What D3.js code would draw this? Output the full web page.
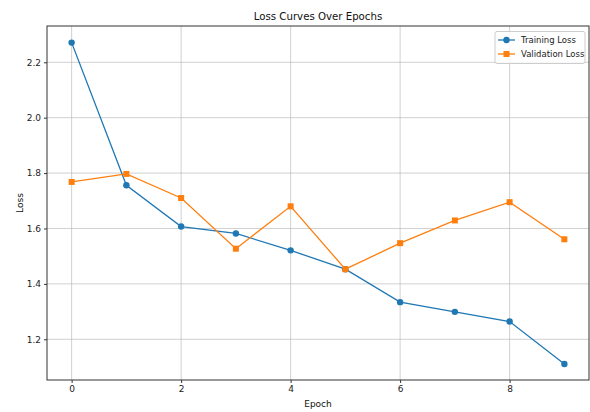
<!DOCTYPE html>
<html><head><meta charset="utf-8">
<script src="https://cdn.jsdelivr.net/npm/d3@7"></script>
<style>body{margin:0;background:#fff;} text{font-family:"DejaVu Sans",sans-serif;}</style>
</head><body>
<svg id="chart" width="590" height="412"></svg>
<script>
const epochs = [0,1,2,3,4,5,6,7,8,9];
const trainingLoss = [2.271,1.756,1.607,1.582,1.521,1.453,1.334,1.299,1.264,1.111];
const validationLoss = [1.768,1.797,1.710,1.527,1.680,1.453,1.547,1.629,1.695,1.561];
const xTicks = [0,2,4,6,8];
const yTicks = [1.2,1.4,1.6,1.8,2.0,2.2];
const seriesNames = ["Training Loss","Validation Loss"];
const colors = ["#1f77b4","#ff7f0e"];

const svg = d3.select("#chart");
const L=47,R=589,T=26,B=380;
const x = d3.scaleLinear().domain([-0.45,9.45]).range([L,R]);
const y = d3.scaleLinear().domain([1.053,2.331]).range([B,T]);

const g = svg.append("g");
// grid
g.selectAll(".gx").data(xTicks).enter().append("line")
 .attr("x1",d=>x(d)).attr("x2",d=>x(d)).attr("y1",T).attr("y2",B)
 .attr("stroke","#b0b0b0").attr("stroke-opacity",0.6).attr("stroke-width",1);
g.selectAll(".gy").data(yTicks).enter().append("line")
 .attr("y1",d=>y(d)).attr("y2",d=>y(d)).attr("x1",L).attr("x2",R)
 .attr("stroke","#b0b0b0").attr("stroke-opacity",0.6).attr("stroke-width",1);

// axes
const xAxis = d3.axisBottom(x).tickValues(xTicks).tickFormat(d3.format("d")).tickSize(3).tickPadding(3);
const yAxis = d3.axisLeft(y).tickValues(yTicks).tickFormat(d3.format(".1f")).tickSize(3).tickPadding(3);
const gx = svg.append("g").attr("transform",`translate(0,${B})`).call(xAxis);
const gy = svg.append("g").attr("transform",`translate(${L},0)`).call(yAxis);
[gx,gy].forEach(a=>{a.select(".domain").remove();a.selectAll("text").attr("font-size",9).attr("fill","#222").style("font-family","DejaVu Sans");a.selectAll("line").attr("stroke","#333");});
// frame
svg.append("rect").attr("x",L).attr("y",T).attr("width",R-L).attr("height",B-T)
 .attr("fill","none").attr("stroke","#333").attr("stroke-width",1);

// lines
const data = [trainingLoss, validationLoss];
const line = d3.line().x((d,i)=>x(epochs[i])).y(d=>y(d));
data.forEach((s,k)=>{
  svg.append("path").datum(s).attr("d",line).attr("fill","none").attr("stroke",colors[k]).attr("stroke-width",1.3);
  if(k===0){
    svg.selectAll(".m0").data(s).enter().append("circle").attr("cx",(d,i)=>x(epochs[i])).attr("cy",d=>y(d)).attr("r",3.2).attr("fill",colors[k]);
  } else {
    svg.selectAll(".m1").data(s).enter().append("rect").attr("x",(d,i)=>x(epochs[i])-3).attr("y",d=>y(d)-3).attr("width",6).attr("height",6).attr("fill",colors[k]);
  }
});

// title and labels
svg.append("text").attr("x",(L+R)/2).attr("y",20).attr("text-anchor","middle").attr("font-size",10.2).attr("fill","#111").text("Loss Curves Over Epochs");
svg.append("text").attr("x",(L+R)/2).attr("y",407).attr("text-anchor","middle").attr("font-size",9).attr("fill","#111").text("Epoch");
svg.append("text").attr("transform",`translate(23,${(T+B)/2}) rotate(-90)`).attr("text-anchor","middle").attr("font-size",9).attr("fill","#111").text("Loss");

// legend
const lg = svg.append("g");
lg.append("rect").attr("x",495).attr("y",31.5).attr("width",90).attr("height",32).attr("rx",2)
  .attr("fill","#fff").attr("fill-opacity",0.8).attr("stroke","#ccc").attr("stroke-width",1);
seriesNames.forEach((n,k)=>{
  const yy = 40 + k*14;
  lg.append("line").attr("x1",498).attr("x2",515).attr("y1",yy).attr("y2",yy).attr("stroke",colors[k]).attr("stroke-width",1.3);
  if(k===0) lg.append("circle").attr("cx",506.5).attr("cy",yy).attr("r",3.2).attr("fill",colors[k]);
  else lg.append("rect").attr("x",503.5).attr("y",yy-3).attr("width",6).attr("height",6).attr("fill",colors[k]);
  lg.append("text").attr("x",521).attr("y",yy+3).attr("font-size",8.5).attr("fill","#222").text(n);
});
</script>
</body></html>
